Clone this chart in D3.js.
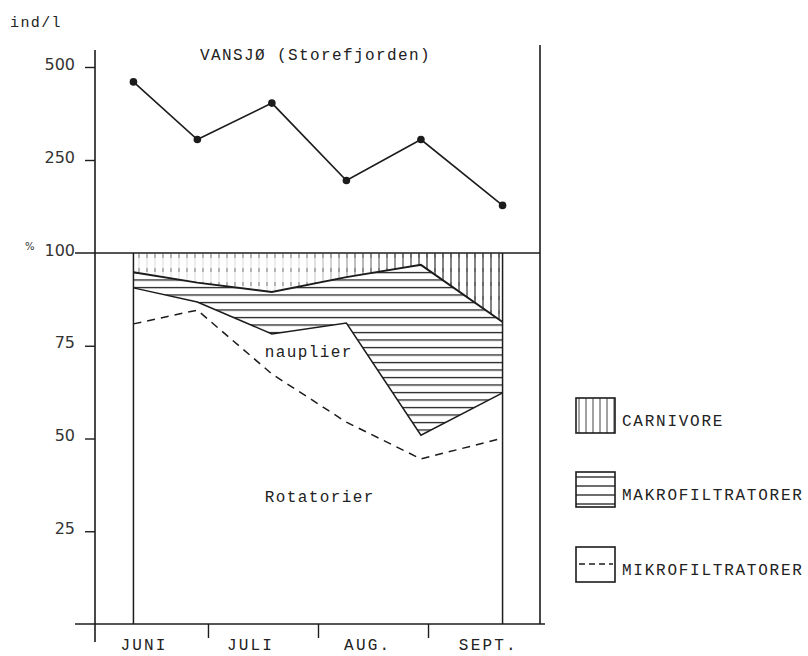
<!DOCTYPE html>
<html>
<head>
<meta charset="utf-8">
<script src="https://cdn.jsdelivr.net/npm/d3@7"></script>
<style>
  html, body { margin: 0; padding: 0; background: #fff; }
  svg { display: block; }
  .mono { font-family: "Liberation Mono", "DejaVu Sans Mono", monospace; fill: #222; }
  .num  { font-family: "DejaVu Sans", sans-serif; fill: #333; }
</style>
</head>
<body>
<svg id="chart" width="808" height="656"></svg>
<script>
// Sampling dates over the season
const sampleDates = ["2000-06-10", "2000-06-28", "2000-07-19", "2000-08-09", "2000-08-30", "2000-09-22"];
// Total zooplankton density (ind/l)
const density = [460, 305, 403, 195, 305, 128];
// Percentage composition, stacked from the bottom up
const rotatoria = [80.9, 84.6, 67.4, 54.4, 44.5, 50.1];
const nauplii   = [9.7, 2.2, 10.8, 26.7, 6.4, 12.2];
const makro     = [4.2, 5.2, 11.3, 12.4, 45.9, 19.1];
const carnivore = [5.2, 8.0, 10.5, 6.5, 3.2, 18.6];

const densityTicks = [250, 500];
const percentTicks = [25, 50, 75];
const monthTicks = ["2000-07-01", "2000-08-01", "2000-09-01"];
const monthLabels = ["JUNI", "JULI", "AUG.", "SEPT."];
const monthLabelDates = ["2000-06-13", "2000-07-13", "2000-08-15", "2000-09-18"];
const legendLabels = ["CARNIVORE", "MAKROFILTRATORER", "MIKROFILTRATORER"];

const parse = d3.timeParse("%Y-%m-%d");
const ink = "#1c1c1c";

// frame geometry
const frameL = 95, frameR = 540, axisTop = 50, split = 253, base = 624;

const svg = d3.select("#chart");

const x = d3.scaleTime()
  .domain([parse("2000-06-01"), parse("2000-10-01")])
  .range([101.5, 534.5]);
const yTop = d3.scaleLinear().domain([0, 500]).range([split, 67]);
const yPct = d3.scaleLinear().domain([0, 100]).range([base, split]);

const rows = sampleDates.map((s, i) => ({
  date: parse(s),
  density: density[i],
  rotatoria: rotatoria[i],
  nauplii: nauplii[i],
  makro: makro[i],
  carnivore: carnivore[i]
}));

const stack = d3.stack().keys(["rotatoria", "nauplii", "makro", "carnivore"])(rows);

// ---------- hatch patterns ----------
const defs = svg.append("defs");

const hPat = defs.append("pattern")
  .attr("id", "hatchH").attr("patternUnits", "userSpaceOnUse")
  .attr("width", 8).attr("height", 7.5);
hPat.append("line").attr("x1", -1).attr("x2", 9).attr("y1", 2.5).attr("y2", 2.5)
  .attr("stroke", ink).attr("stroke-width", 1.3);

const vPat = defs.append("pattern")
  .attr("id", "hatchV").attr("patternUnits", "userSpaceOnUse")
  .attr("width", 8).attr("height", 10);
vPat.append("line").attr("x1", 3).attr("x2", 3).attr("y1", -1).attr("y2", 11)
  .attr("stroke", ink).attr("stroke-width", 1.1);

const vPatFaint = defs.append("pattern")
  .attr("id", "hatchVFaint").attr("patternUnits", "userSpaceOnUse")
  .attr("width", 8).attr("height", 14);
vPatFaint.append("line").attr("x1", 3).attr("x2", 3).attr("y1", 2).attr("y2", 6)
  .attr("stroke", "#555").attr("stroke-width", 1);

const legV = defs.append("pattern")
  .attr("id", "legV").attr("patternUnits", "userSpaceOnUse")
  .attr("width", 7).attr("height", 10);
legV.append("line").attr("x1", 3).attr("x2", 3).attr("y1", -1).attr("y2", 11)
  .attr("stroke", "#444").attr("stroke-width", 1);

const legH = defs.append("pattern")
  .attr("id", "legH").attr("patternUnits", "userSpaceOnUse")
  .attr("width", 8).attr("height", 9);
legH.append("line").attr("x1", -1).attr("x2", 9).attr("y1", 5).attr("y2", 5)
  .attr("stroke", ink).attr("stroke-width", 1.3);

// vertical hatching fades out toward the left
const grad = defs.append("linearGradient")
  .attr("id", "fade").attr("gradientUnits", "userSpaceOnUse")
  .attr("x1", 300).attr("x2", 425).attr("y1", 0).attr("y2", 0);
grad.append("stop").attr("offset", 0).attr("stop-color", "#fff").attr("stop-opacity", 0.15);
grad.append("stop").attr("offset", 1).attr("stop-color", "#fff").attr("stop-opacity", 1);
defs.append("mask").attr("id", "fadeMask").attr("maskUnits", "userSpaceOnUse")
  .attr("x", 0).attr("y", 0).attr("width", 808).attr("height", 656)
  .append("rect").attr("width", 808).attr("height", 656).attr("fill", "url(#fade)");

// ---------- stacked composition ----------
const area = d3.area()
  .x(d => x(d.data.date))
  .y0(d => yPct(d[0]))
  .y1(d => yPct(d[1]));

const carnLayer = stack[3];
const makroLayer = stack[2];

svg.append("path").attr("d", area(carnLayer)).attr("fill", "url(#hatchVFaint)").attr("opacity", 0.7);
svg.append("path").attr("d", area(carnLayer)).attr("fill", "url(#hatchV)").attr("mask", "url(#fadeMask)");
svg.append("path").attr("d", area(makroLayer)).attr("fill", "url(#hatchH)");

const topLine = layer => d3.line().x(d => x(d.data.date)).y(d => yPct(d[1]))(layer);

// carnivore / makro boundary
svg.append("path").attr("d", topLine(stack[2]))
  .attr("fill", "none").attr("stroke", ink).attr("stroke-width", 1.9);
// makro / nauplii boundary
svg.append("path").attr("d", topLine(stack[1]))
  .attr("fill", "none").attr("stroke", ink).attr("stroke-width", 1.5);
// nauplii / rotatoria boundary (mikrofiltratorer)
svg.append("path").attr("d", topLine(stack[0]))
  .attr("fill", "none").attr("stroke", ink).attr("stroke-width", 1.5)
  .attr("stroke-dasharray", "8,6");

// side walls of the composition block
const firstX = x(rows[0].date), lastX = x(rows[rows.length - 1].date);
[firstX, lastX].forEach(px => {
  svg.append("line").attr("x1", px).attr("x2", px)
    .attr("y1", yPct(100)).attr("y2", yPct(0))
    .attr("stroke", ink).attr("stroke-width", 1.5);
});

// ---------- frame ----------
svg.append("line").attr("x1", frameL).attr("x2", frameL).attr("y1", axisTop).attr("y2", 642)
  .attr("stroke", ink).attr("stroke-width", 1.6);
svg.append("line").attr("x1", frameR).attr("x2", frameR).attr("y1", 45).attr("y2", base)
  .attr("stroke", ink).attr("stroke-width", 1.6);
svg.append("line").attr("x1", 75).attr("x2", frameR).attr("y1", yPct(100)).attr("y2", yPct(100))
  .attr("stroke", ink).attr("stroke-width", 1.6);
svg.append("line").attr("x1", 75).attr("x2", 545).attr("y1", yPct(0)).attr("y2", yPct(0))
  .attr("stroke", ink).attr("stroke-width", 1.6);

// ---------- axes ----------
const styleAxis = g => {
  g.select(".domain").remove();
  g.selectAll(".tick line").attr("stroke", ink).attr("stroke-width", 1.4);
  g.selectAll(".tick text").attr("class", "num").attr("font-size", 16)
    .attr("dy", "0.13em").attr("fill", "#333");
};

svg.append("g").attr("transform", `translate(${frameL},0)`)
  .call(d3.axisLeft(yTop).tickValues(densityTicks).tickSize(10).tickPadding(10).tickFormat(d3.format("d")))
  .call(styleAxis)
  .attr("font-family", null).attr("font-size", null);

svg.append("g").attr("transform", `translate(${frameL},0)`)
  .call(d3.axisLeft(yPct).tickValues(percentTicks).tickSize(10).tickPadding(10).tickFormat(d3.format("d")))
  .call(styleAxis)
  .attr("font-family", null).attr("font-size", null);

// 100 % label sits on the dividing line
svg.append("text").attr("class", "num").attr("font-size", 16)
  .attr("x", frameL - 20).attr("y", yPct(100)).attr("dy", "0.2em")
  .attr("text-anchor", "end").text("100");
svg.append("text").attr("class", "num").attr("font-size", 10)
  .attr("x", 25).attr("y", yPct(100) - 3).text("%");

// month boundaries
svg.append("g").attr("transform", `translate(0,${base})`)
  .call(d3.axisBottom(x).tickValues(monthTicks.map(parse)).tickSize(14).tickFormat(""))
  .call(g => {
    g.select(".domain").remove();
    g.selectAll(".tick line").attr("stroke", ink).attr("stroke-width", 1.4);
  });

svg.append("g").selectAll("text").data(monthLabels).join("text")
  .attr("class", "mono").attr("font-size", 16).attr("letter-spacing", 2.2)
  .attr("text-anchor", "middle")
  .attr("x", (d, i) => x(parse(monthLabelDates[i])))
  .attr("y", 650)
  .text(d => d);

// ---------- density line ----------
svg.append("path")
  .attr("d", d3.line().x(d => x(d.date)).y(d => yTop(d.density))(rows))
  .attr("fill", "none").attr("stroke", ink).attr("stroke-width", 1.6);
svg.append("g").selectAll("circle").data(rows).join("circle")
  .attr("cx", d => x(d.date)).attr("cy", d => yTop(d.density))
  .attr("r", 3.8).attr("fill", ink);

// ---------- text ----------
svg.append("text").attr("class", "mono").attr("font-size", 15).attr("letter-spacing", 1.4)
  .attr("x", 10).attr("y", 27).text("ind/l");
svg.append("text").attr("class", "mono").attr("font-size", 16).attr("letter-spacing", 1.4)
  .attr("x", 200).attr("y", 60).text("VANSJØ (Storefjorden)");
svg.append("text").attr("class", "mono").attr("font-size", 16).attr("letter-spacing", 1.4)
  .attr("x", x(parse("2000-07-17"))).attr("y", yPct(72)).text("nauplier");
svg.append("text").attr("class", "mono").attr("font-size", 16).attr("letter-spacing", 1.4)
  .attr("x", x(parse("2000-07-17"))).attr("y", yPct(33)).text("Rotatorier");

// ---------- legend ----------
const legendTop = [398, 472, 547];
const legendFill = ["url(#legV)", "url(#legH)", "#fff"];
const leg = svg.append("g").selectAll("g").data(legendLabels).join("g")
  .attr("transform", (d, i) => `translate(576,${legendTop[i]})`);
leg.append("rect").attr("width", 39).attr("height", 35)
  .attr("fill", (d, i) => legendFill[i])
  .attr("stroke", ink).attr("stroke-width", 1.6);
leg.filter((d, i) => i === 2).append("line")
  .attr("x1", 3).attr("x2", 37).attr("y1", 17).attr("y2", 17)
  .attr("stroke", ink).attr("stroke-width", 1.3).attr("stroke-dasharray", "6,4");
leg.append("text").attr("class", "mono").attr("font-size", 16).attr("letter-spacing", 1.75)
  .attr("x", 46).attr("y", 28).text(d => d);
</script>
</body>
</html>
